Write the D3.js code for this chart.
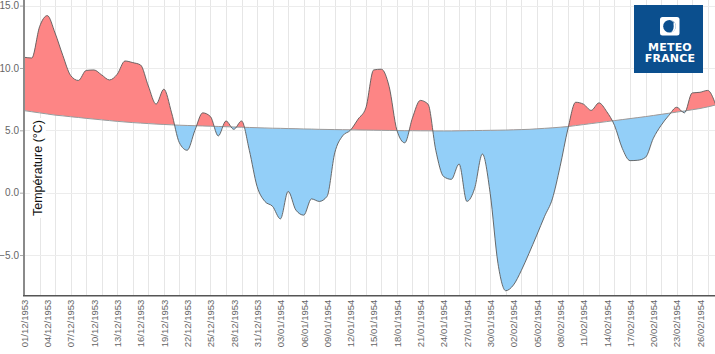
<!DOCTYPE html>
<html><head><meta charset="utf-8">
<script src="https://cdn.jsdelivr.net/npm/d3@7"></script>
<style>body{margin:0;background:#fff;} svg{display:block;font-family:"Liberation Sans",Arial,sans-serif;}</style>
</head><body><svg id="c" width="715" height="354"></svg>
<script>
// ---- data ----
const startDate = "1953-12-01";
const temperature = [
  10.86, 10.8, 13.3, 14.2, 12.8, 11.0, 9.4, 9.0, 9.8, 9.84,
  9.44, 9.04, 9.5, 10.56, 10.43, 10.24, 8.56, 7.1, 8.3, 6.4,
  4.0, 3.4, 5.0, 6.4, 6.1, 4.55, 5.75, 5.08, 5.75, 3.4,
  0.5, -0.7, -1.1, -2.1, 0.1, -1.4, -1.8, -0.5, -0.7, -0.3,
  3.2, 4.55, 5.0, 5.9, 6.8, 9.84, 9.9, 8.5, 5.0, 4.0,
  6.0, 7.4, 7.1, 3.4, 1.3, 1.07, 2.3, -0.7, 0.35, 3.1,
  -0.05, -5.66, -7.86, -7.4, -6.25, -4.86, -3.4, -1.9, -0.5, 2.1,
  5.1, 7.25, 7.1, 6.6, 7.2, 6.5, 5.4, 3.56, 2.57, 2.6,
  2.84, 4.36, 5.4, 6.2, 6.85, 6.4, 8.0, 8.05, 8.2, 7.1
];
const normal = [
  6.58, 6.49, 6.40, 6.31, 6.22, 6.16, 6.09, 6.03, 5.96, 5.90,
  5.84, 5.78, 5.72, 5.67, 5.62, 5.58, 5.54, 5.50, 5.47, 5.44,
  5.41, 5.39, 5.37, 5.35, 5.33, 5.31, 5.29, 5.27, 5.25, 5.23,
  5.21, 5.19, 5.17, 5.16, 5.14, 5.13, 5.11, 5.10, 5.08, 5.07,
  5.06, 5.05, 5.04, 5.03, 5.02, 5.01, 5.00, 4.99, 4.98, 4.97,
  4.97, 4.96, 4.96, 4.95, 4.95, 4.95, 4.96, 4.97, 4.98, 4.99,
  5.00, 5.01, 5.02, 5.04, 5.06, 5.08, 5.12, 5.16, 5.20, 5.25,
  5.30, 5.38, 5.46, 5.54, 5.62, 5.70, 5.78, 5.86, 5.94, 6.02,
  6.10, 6.19, 6.28, 6.37, 6.46, 6.55, 6.65, 6.75, 6.88, 7.03
];
const yTickValues = [-5, 0, 5, 10, 15];
const yLabel = "Température (°C)";
const logoLines = ["METEO", "FRANCE"];

// ---- setup ----
const parse = d3.timeParse("%Y-%m-%d");
const t0 = parse(startDate);
const dates = temperature.map((_, i) => d3.timeDay.offset(t0, i));
const data = dates.map((d, i) => ({date: d, t: temperature[i], n: normal[i]}));
const xTicks = dates.filter((_, i) => i % 3 === 0);
const xGrid = dates.filter((_, i) => i % 2 === 0 && i > 0);
const fmt = d3.timeFormat("%d/%m/%Y");

const pL = 24, pR = 715.5, pT = 0, pB = 295.7;
const x = d3.scaleTime().domain([dates[0], dates[dates.length - 1]]).range([pL, pR]);
const y = d3.scaleLinear().domain([-8.26, 15.45]).range([pB, pT]);
const svg = d3.select("#c");
const curve = d3.curveMonotoneX;

// grid
svg.append("g").selectAll("line").data(xGrid).join("line")
  .attr("x1", d => Math.round(x(d)) + 0.5).attr("x2", d => Math.round(x(d)) + 0.5)
  .attr("y1", pT).attr("y2", pB).attr("stroke", "#e6e6e6").attr("stroke-width", 1);
svg.append("g").selectAll("line").data(yTickValues).join("line")
  .attr("x1", pL).attr("x2", 715)
  .attr("y1", d => Math.round(y(d)) + 0.5).attr("y2", d => Math.round(y(d)) + 0.5)
  .attr("stroke", "#ececec").attr("stroke-width", 1);

// clip paths
const defs = svg.append("defs");
defs.append("clipPath").attr("id", "above").append("path").datum(data)
  .attr("d", d3.area().curve(curve).x(d => x(d.date)).y0(pT).y1(d => y(d.n)));
defs.append("clipPath").attr("id", "below").append("path").datum(data)
  .attr("d", d3.area().curve(curve).x(d => x(d.date)).y0(pB).y1(d => y(d.n)));

const diffArea = d3.area().curve(curve).x(d => x(d.date)).y0(d => y(d.n)).y1(d => y(d.t));
svg.append("path").datum(data).attr("clip-path", "url(#above)")
  .attr("fill", "#fd8585").attr("d", diffArea);
svg.append("path").datum(data).attr("clip-path", "url(#below)")
  .attr("fill", "#93cff8").attr("d", diffArea);

svg.append("path").datum(data).attr("fill", "none").attr("stroke", "#9a9a9a").attr("stroke-width", 1)
  .attr("d", d3.line().curve(curve).x(d => x(d.date)).y(d => y(d.n)));
svg.append("path").datum(data).attr("fill", "none").attr("stroke", "#5a5a5a").attr("stroke-width", 0.9)
  .attr("d", d3.line().curve(curve).x(d => x(d.date)).y(d => y(d.t)));

// y axis
const yAxis = svg.append("g").attr("transform", `translate(${pL},0)`)
  .call(d3.axisLeft(y).tickValues(yTickValues).tickFormat(d3.format(".1f")).tickSize(4).tickPadding(1));
yAxis.select(".domain").remove();
yAxis.selectAll(".tick line").attr("stroke", "#aaa");
yAxis.selectAll(".tick text").attr("fill", "#666").attr("font-size", "10px")
  .attr("font-family", "Liberation Sans, Arial, sans-serif");
svg.append("line").attr("x1", pL).attr("x2", pL).attr("y1", pT).attr("y2", pB)
  .attr("stroke", "#8a8a8a").attr("stroke-width", 2);

// x axis
const xAxis = svg.append("g").attr("transform", `translate(0,${pB})`)
  .call(d3.axisBottom(x).tickValues(xTicks).tickFormat(fmt).tickSize(0));
xAxis.select(".domain").remove();
xAxis.selectAll(".tick text").attr("fill", "#666").attr("font-size", "9.5px")
  .attr("font-family", "Liberation Sans, Arial, sans-serif")
  .attr("transform", "rotate(-90)").attr("text-anchor", "end")
  .attr("x", -4).attr("y", 0).attr("dy", "0.35em");
svg.append("line").attr("x1", pL - 1).attr("x2", 715).attr("y1", pB).attr("y2", pB)
  .attr("stroke", "#555").attr("stroke-width", 1.5);

// y title with white backing
const tg = svg.append("g").attr("transform", "translate(37.5,168) rotate(-90)");
const tt = tg.append("text").attr("text-anchor", "middle").attr("dy", "0.35em")
  .attr("font-size", "12.5px").attr("fill", "#111").text(yLabel);
const bb = tt.node().getBBox();
tg.insert("rect", "text").attr("x", bb.x - 2).attr("y", bb.y - 1)
  .attr("width", bb.width + 4).attr("height", bb.height + 2).attr("fill", "#fff");

// logo
const lg = svg.append("g");
lg.append("rect").attr("x", 634).attr("y", 5).attr("width", 69).attr("height", 68).attr("fill", "#0b4f8e");
lg.append("rect").attr("x", 660).attr("y", 17).attr("width", 19.5).attr("height", 18.5).attr("rx", 2.5).attr("fill", "#fff");
lg.append("circle").attr("cx", 669.5).attr("cy", 26.2).attr("r", 6.3).attr("fill", "#0b4f8e");
lg.append("path").attr("d", "M669.5,19.9 A6.3,6.3 0 0 1 669.5,32.5 A4.2,6.3 0 0 0 669.5,19.9 Z").attr("fill", "#fff");
lg.append("circle").attr("cx", 672.5).attr("cy", 22.8).attr("r", 1.2).attr("fill", "#0b4f8e");
lg.selectAll("text.logo").data(logoLines).join("text").attr("class", "logo")
  .attr("x", 670).attr("y", (d, i) => 50.5 + i * 11.5).attr("text-anchor", "middle")
  .attr("font-size", "11px").attr("font-weight", "bold").attr("fill", "#fff")
  .attr("font-family", "DejaVu Sans, Liberation Sans, sans-serif").attr("letter-spacing", "0.2px")
  .text(d => d);
</script></body></html>
